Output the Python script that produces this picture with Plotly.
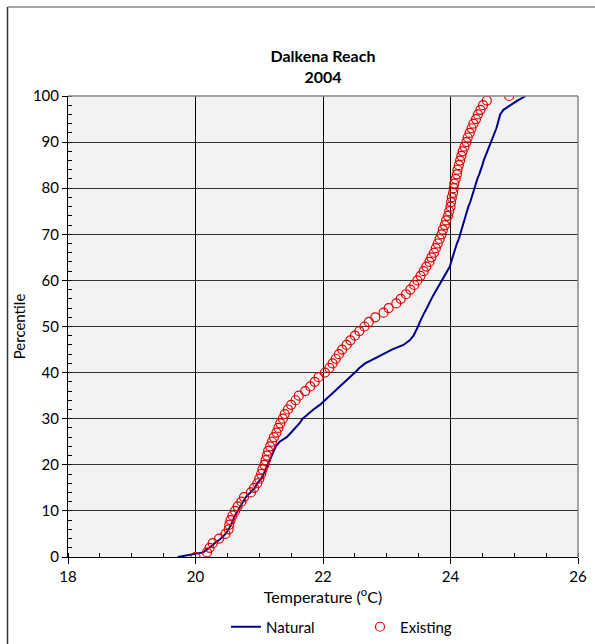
import plotly.graph_objects as go

percentiles = list(range(0, 101))

natural_temp = [
    19.72, 20.12, 20.22, 20.30, 20.40, 20.47, 20.52, 20.56, 20.59, 20.62,
    20.66, 20.70, 20.74, 20.79, 20.86, 20.93, 20.97, 21.03, 21.07, 21.10,
    21.13, 21.16, 21.19, 21.23, 21.26, 21.32, 21.43, 21.50, 21.57, 21.63,
    21.68, 21.76, 21.85, 21.95, 22.03, 22.10, 22.18, 22.27, 22.35, 22.42,
    22.50, 22.57, 22.66, 22.80, 22.95, 23.08, 23.26, 23.36, 23.42, 23.46,
    23.49, 23.52, 23.55, 23.59, 23.63, 23.66, 23.70, 23.74, 23.78, 23.83,
    23.87, 23.91, 23.95, 23.99, 24.01, 24.03, 24.05, 24.08, 24.10, 24.13,
    24.15, 24.17, 24.20, 24.22, 24.24, 24.26, 24.28, 24.31, 24.33, 24.35,
    24.38, 24.40, 24.42, 24.45, 24.48, 24.50, 24.52, 24.55, 24.58, 24.61,
    24.63, 24.66, 24.69, 24.72, 24.74, 24.76, 24.78, 24.83, 24.93, 25.05,
    25.18,
]

existing_temp = [
    20.00, 20.18, 20.22, 20.27, 20.37, 20.47, 20.52, 20.53, 20.55, 20.58,
    20.62, 20.66, 20.72, 20.76, 20.87, 20.92, 20.97, 21.00, 21.03, 21.05,
    21.08, 21.10, 21.12, 21.14, 21.17, 21.20, 21.23, 21.27, 21.30, 21.33,
    21.37, 21.40, 21.45, 21.50, 21.57, 21.62, 21.72, 21.80, 21.87, 21.93,
    22.03, 22.10, 22.15, 22.20, 22.25, 22.30, 22.37, 22.43, 22.50, 22.57,
    22.65, 22.72, 22.82, 22.95, 23.03, 23.15, 23.22, 23.30, 23.37, 23.43,
    23.48, 23.53, 23.58, 23.62, 23.67, 23.70, 23.74, 23.77, 23.80, 23.83,
    23.86, 23.88, 23.91, 23.93, 23.96, 23.98, 24.00, 24.01, 24.02, 24.04,
    24.05, 24.06, 24.08, 24.10, 24.11, 24.13, 24.15, 24.17, 24.19, 24.22,
    24.25, 24.27, 24.30, 24.33, 24.36, 24.40, 24.43, 24.47, 24.51, 24.57,
    24.92,
]

x_ticks = [18, 20, 22, 24, 26]
y_ticks = [0, 10, 20, 30, 40, 50, 60, 70, 80, 90, 100]

FONT = "Lato"

fig = go.Figure()
fig.add_trace(go.Scatter(
    x=natural_temp, y=percentiles, mode="lines", name="Natural",
    line=dict(color="#000090", width=2), legend="legend",
))
fig.add_trace(go.Scatter(
    x=existing_temp, y=percentiles, mode="markers", name="Existing",
    marker=dict(symbol="circle-open", size=9, color="#e00000", line=dict(width=1.2, color="#e00000")),
    legend="legend2",
))

leg_y = (557 - 627) / 461
legend_common = dict(
    orientation="h", y=leg_y, yanchor="middle", xanchor="left",
    font=dict(family=FONT, size=15), bgcolor="rgba(0,0,0,0)",
)

fig.update_layout(
    width=595, height=644,
    margin=dict(l=68, r=17, t=96, b=87, autoexpand=False),
    paper_bgcolor="white",
    plot_bgcolor="#f2f2f2",
    font=dict(family=FONT, size=15, color="black"),
    title=dict(
        text="<b>Dalkena Reach<br>2004</b>",
        x=(68 + 578) / 2 / 595, xanchor="center",
        y=1 - 62 / 644, yanchor="middle",
        font=dict(family=FONT, size=16, color="black"),
    ),
    showlegend=True,
    legend=dict(x=(226 - 68) / 510, **legend_common),
    legend2=dict(x=(360 - 68) / 510, **legend_common),
    xaxis=dict(
        range=[18, 26], tickvals=x_ticks, ticktext=[str(v) for v in x_ticks],
        showgrid=True, gridcolor="black", gridwidth=1,
        showline=True, linecolor="black", linewidth=1,
        ticks="outside", ticklen=6, tickcolor="black",
        minor=dict(dtick=0.5, ticks="inside", ticklen=4, tickcolor="black", showgrid=False),
        zeroline=False,
        title=dict(text="Temperature (<sup>o</sup>C)", font=dict(family=FONT, size=16), standoff=0),
        tickfont=dict(family=FONT, size=15),
    ),
    yaxis=dict(
        range=[0, 100], tickvals=y_ticks, ticktext=[str(v) for v in y_ticks],
        showgrid=True, gridcolor="#333333", gridwidth=1,
        showline=True, linecolor="black", linewidth=1,
        ticks="outside", ticklen=5, tickcolor="black",
        minor=dict(dtick=2, ticks="inside", ticklen=4, tickcolor="black", showgrid=False),
        zeroline=False,
        title=dict(text="Percentile", font=dict(family=FONT, size=15), standoff=3),
        tickfont=dict(family=FONT, size=15),
    ),
)

# gray top/right plot border
fig.add_shape(type="line", xref="paper", yref="paper", x0=0, x1=1, y0=1, y1=1,
              line=dict(color="#888888", width=1.5))
fig.add_shape(type="line", xref="paper", yref="paper", x0=1, x1=1, y0=0, y1=1,
              line=dict(color="#888888", width=1.5))

# outer chart frame (left and top edges)
px_l = (7.5 - 68) / 510
py_t = (557 - 7) / 461
py_b = (557 - 650) / 461
fig.add_shape(type="line", xref="paper", yref="paper", x0=px_l, x1=(600 - 68) / 510, y0=py_t, y1=py_t,
              line=dict(color="#888888", width=1.5))
fig.add_shape(type="line", xref="paper", yref="paper", x0=px_l, x1=px_l, y0=py_b, y1=py_t,
              line=dict(color="#333333", width=1.5))

fig.write_html("out.html")
